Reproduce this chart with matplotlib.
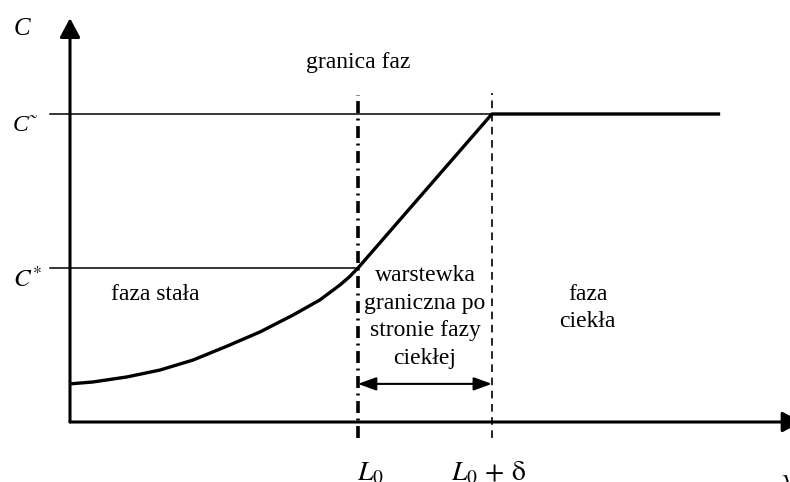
import matplotlib
matplotlib.use('Agg')
import matplotlib.pyplot as plt
from matplotlib.patches import FancyArrowPatch

plt.rcParams['font.family'] = ['Liberation Serif', 'DejaVu Serif']
plt.rcParams['mathtext.fontset'] = 'stix'
plt.rcParams['lines.scale_dashes'] = False

# ---- values ----
L0 = 4.0          # phase boundary position
delta = 1.86      # boundary layer thickness
C_star = 4.0      # C* (solid side equilibrium)
C_bulk = 8.0      # C~ (bulk liquid)
x_end = 9.03      # end of the plateau

# concentration profile in the solid phase (from y axis up to L0)
x_solid = [0.0, 0.32, 0.79, 1.25, 1.71, 2.18, 2.64, 3.10, 3.47, 3.75, 3.88, 4.0]
c_solid = [0.99, 1.04, 1.17, 1.35, 1.61, 1.97, 2.34, 2.78, 3.17, 3.56, 3.77, 4.0]

# full profile: solid part, linear layer, flat bulk
x_prof = x_solid + [L0 + delta, x_end]
c_prof = c_solid + [C_bulk, C_bulk]

phase_labels = ['faza stała', 'faza\nciekła']
layer_lines = ['warstewka', 'graniczna po', 'stronie fazy', 'ciekłej']

fig = plt.figure(figsize=(7.9, 4.82), dpi=100)
ax = fig.add_axes([0, 0, 1, 1])
ax.axis('off')
ax.set_xlim(-70 / 72, 720 / 72)
ax.set_ylim(-60 / 38.5, 422 / 38.5)

# axes with arrows
ax_kw = dict(arrowstyle='-|>,head_length=0.58,head_width=0.31', mutation_scale=20,
             color='black', lw=2.2, shrinkA=0, shrinkB=0, clip_on=False)
ax.add_patch(FancyArrowPatch((0, 0), (0, 10.49), **ax_kw))
ax.add_patch(FancyArrowPatch((0, 0), (10.16, 0), **ax_kw))

# reference levels
ax.plot([-0.278, L0 + delta], [C_bulk, C_bulk], color='black', lw=1.1)
ax.plot([-0.278, L0], [C_star, C_star], color='black', lw=1.1)

# boundary lines
ax.plot([L0, L0], [-0.42, 8.49], color='black', lw=2.6,
        dashes=[8.6, 4.0, 1.4, 4.0])
ax.plot([L0 + delta, L0 + delta], [-0.42, 8.55], color='black', lw=1.2,
        dashes=[5.5, 4.0])

# profile
ax.plot(x_prof, c_prof, color='black', lw=2.4, solid_capstyle='butt')

# boundary layer thickness arrow
ax.add_patch(FancyArrowPatch((L0, 0.99), (L0 + delta, 0.99),
                             arrowstyle='<|-|>,head_length=0.55,head_width=0.2',
                             mutation_scale=20, color='black', lw=1.5,
                             shrinkA=0, shrinkB=0))

fs = 17
ax.text(L0, 9.19, 'granica faz', ha='center', va='baseline', fontsize=fs)
ax.text(1.19, 3.17, phase_labels[0], ha='center', va='baseline', fontsize=fs)
for i, line in enumerate(phase_labels[1].split('\n')):
    ax.text(7.19, 3.17 - i * 27 / 38.5, line, ha='center', va='baseline', fontsize=fs)
for i, line in enumerate(layer_lines):
    ax.text(4.93, 3.66 - i * 27.5 / 38.5, line, ha='center', va='baseline', fontsize=fs)

# axis labels
ax.text(-0.667, 10.05, 'C', ha='center', va='baseline', fontsize=18, style='italic')
ax.text(-0.792, 7.56, 'C˜', ha='left', va='baseline', fontsize=17, style='italic')
ax.text(-0.792, 3.51, r'$C^{*}$', ha='left', va='baseline', fontsize=18)
ax.text(L0 + 0.17, -1.52, r'$L_0$', ha='center', va='baseline', fontsize=20)
ax.text(L0 + delta - 0.05, -1.52, r'$L_0\,+\,\mathrm{\delta}$', ha='center', va='baseline', fontsize=20)
ax.text(9.98, -1.69, r'$y$', ha='center', va='baseline', fontsize=20)

fig.savefig('out.png', dpi=100)
